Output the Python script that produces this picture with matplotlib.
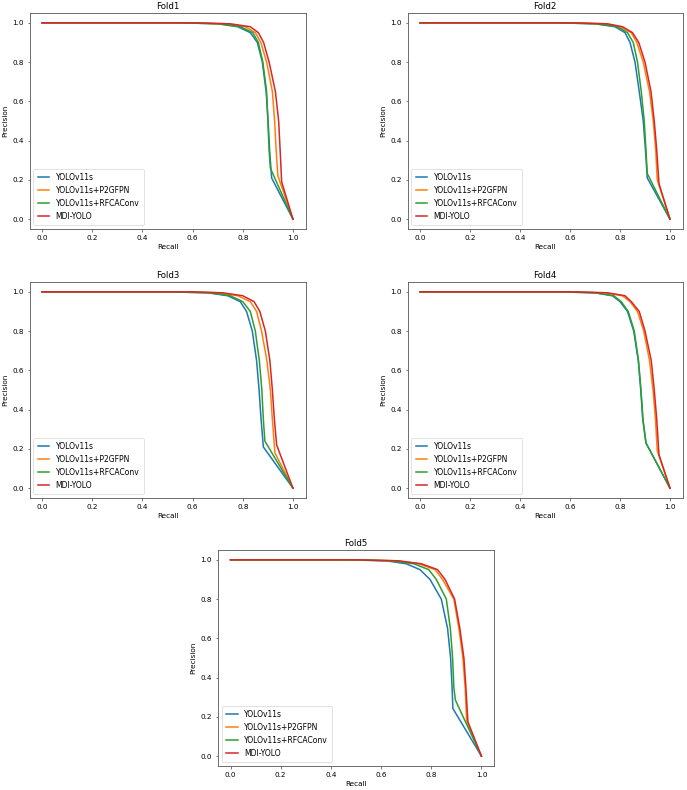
import matplotlib
matplotlib.use("Agg")
import matplotlib.pyplot as plt

models = ["YOLOv11s", "YOLOv11s+P2GFPN", "YOLOv11s+RFCAConv", "MDI-YOLO"]
colors = ["#1f77b4", "#ff7f0e", "#2ca02c", "#d62728"]
folds = ["Fold1", "Fold2", "Fold3", "Fold4", "Fold5"]

# shared precision levels of the curve body (first point is recall 0)
p_levels = [1.0, 1.0, 0.995, 0.98, 0.95, 0.90, 0.80, 0.65, 0.50, 0.35]

# recall reached at each precision level, per fold, per model (order = models)
fold1_recall = [
    [0.0, 0.55, 0.70, 0.78, 0.83, 0.858, 0.878, 0.893, 0.901, 0.907],
    [0.0, 0.58, 0.73, 0.81, 0.85, 0.872, 0.895, 0.918, 0.927, 0.933],
    [0.0, 0.55, 0.71, 0.79, 0.84, 0.862, 0.880, 0.895, 0.900, 0.905],
    [0.0, 0.60, 0.75, 0.83, 0.862, 0.883, 0.905, 0.930, 0.943, 0.949],
]
fold2_recall = [
    [0.0, 0.55, 0.70, 0.78, 0.82, 0.840, 0.860, 0.877, 0.893, 0.902],
    [0.0, 0.60, 0.74, 0.80, 0.845, 0.867, 0.893, 0.918, 0.933, 0.943],
    [0.0, 0.55, 0.71, 0.79, 0.83, 0.853, 0.870, 0.885, 0.897, 0.904],
    [0.0, 0.60, 0.75, 0.81, 0.85, 0.875, 0.900, 0.924, 0.937, 0.947],
]
fold3_recall = [
    [0.0, 0.50, 0.66, 0.74, 0.79, 0.815, 0.838, 0.855, 0.865, 0.873],
    [0.0, 0.55, 0.70, 0.78, 0.83, 0.855, 0.875, 0.896, 0.910, 0.918],
    [0.0, 0.50, 0.67, 0.75, 0.80, 0.830, 0.850, 0.866, 0.876, 0.882],
    [0.0, 0.60, 0.72, 0.80, 0.845, 0.868, 0.890, 0.908, 0.918, 0.926],
]
fold4_recall = [
    [0.0, 0.55, 0.70, 0.77, 0.80, 0.830, 0.855, 0.873, 0.883, 0.891],
    [0.0, 0.60, 0.74, 0.81, 0.84, 0.870, 0.895, 0.918, 0.932, 0.942],
    [0.0, 0.55, 0.70, 0.775, 0.805, 0.833, 0.857, 0.874, 0.884, 0.892],
    [0.0, 0.60, 0.75, 0.82, 0.845, 0.877, 0.900, 0.925, 0.937, 0.947],
]
fold5_recall = [
    [0.0, 0.45, 0.62, 0.70, 0.755, 0.795, 0.840, 0.865, 0.877, 0.883],
    [0.0, 0.50, 0.66, 0.75, 0.815, 0.845, 0.890, 0.910, 0.926, 0.935],
    [0.0, 0.48, 0.64, 0.73, 0.79, 0.820, 0.860, 0.876, 0.885, 0.890],
    [0.0, 0.50, 0.67, 0.76, 0.825, 0.855, 0.893, 0.914, 0.930, 0.938],
]

# last knee point (recall, precision) before the line to (1, 0)
fold1_end = [(0.915, 0.21), (0.940, 0.22), (0.910, 0.26), (0.955, 0.19)]
fold2_end = [(0.909, 0.21), (0.949, 0.20), (0.909, 0.233), (0.956, 0.18)]
fold3_end = [(0.882, 0.21), (0.928, 0.18), (0.888, 0.24), (0.935, 0.22)]
fold4_end = [(0.904, 0.23), (0.949, 0.19), (0.904, 0.23), (0.956, 0.17)]
fold5_end = [(0.886, 0.243), (0.941, 0.18), (0.896, 0.286), (0.946, 0.175)]

final_point = (1.0, 0.0)

all_recall = [fold1_recall, fold2_recall, fold3_recall, fold4_recall, fold5_recall]
all_end = [fold1_end, fold2_end, fold3_end, fold4_end, fold5_end]

W, H = 687, 790
fig = plt.figure(figsize=(W / 100, H / 100), dpi=100)

ax_px = [
    (29.5, 13, 276, 216),
    (407.5, 13, 275, 216),
    (29.5, 282, 276, 216),
    (407.5, 282, 275, 216),
    (218, 550, 276, 216),
]

for i, fold in enumerate(folds):
    l, t, w, h = ax_px[i]
    ax = fig.add_axes([l / W, 1 - (t + h) / H, w / W, h / H])
    for m, name in enumerate(models):
        r = list(all_recall[i][m]) + [all_end[i][m][0], final_point[0]]
        p = list(p_levels) + [all_end[i][m][1], final_point[1]]
        ax.plot(r, p, color=colors[m], lw=1.1, label=name)
    ax.set_title(fold, fontsize=6.2, pad=3)
    ax.set_xlabel("Recall", fontsize=5.2, labelpad=2.5)
    ax.set_ylabel("Precision", fontsize=5.2, labelpad=3)
    ax.set_xticks([0.0, 0.2, 0.4, 0.6, 0.8, 1.0])
    ax.set_yticks([0.0, 0.2, 0.4, 0.6, 0.8, 1.0])
    ax.tick_params(labelsize=5.2, length=1.8, width=0.5, pad=2.5, color="#444444")
    for s in ax.spines.values():
        s.set_linewidth(0.6)
        s.set_color("#555555")
    leg = ax.legend(loc="lower left", fontsize=5.5, handlelength=1.5, borderpad=0.6,
                    labelspacing=0.5, handletextpad=0.8)
    leg.get_frame().set_linewidth(0.5)

fig.savefig("out.png", dpi=100)
